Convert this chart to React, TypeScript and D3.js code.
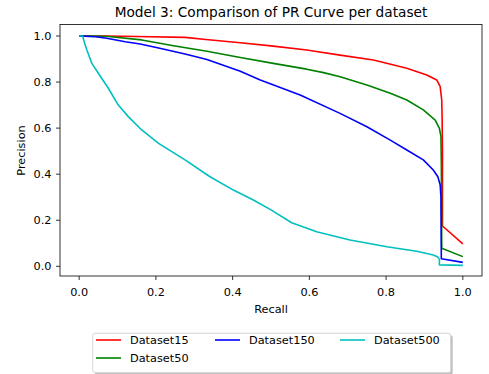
import React from "react";
import * as d3 from "d3";

const seriesNames = ["Dataset15", "Dataset50", "Dataset150", "Dataset500"];
const seriesColors = ["#ff0000", "#008000", "#0000ff", "#00bfbf"];

const recall15 = [0, 0.07, 0.15, 0.276, 0.33, 0.42, 0.5, 0.593, 0.68, 0.767, 0.854, 0.906, 0.932, 0.941, 0.945, 0.946, 0.947, 0.947, 1.0];
const precision15 = [1, 1, 0.998, 0.994, 0.985, 0.971, 0.957, 0.939, 0.917, 0.896, 0.86, 0.831, 0.809, 0.78, 0.722, 0.65, 0.5, 0.175, 0.097];

const recall50 = [0, 0.04, 0.076, 0.163, 0.246, 0.333, 0.42, 0.506, 0.593, 0.637, 0.68, 0.75, 0.811, 0.854, 0.897, 0.928, 0.939, 0.943, 0.944, 0.945, 1.0];
const precision50 = [1, 1, 0.998, 0.983, 0.958, 0.934, 0.907, 0.881, 0.856, 0.841, 0.823, 0.787, 0.751, 0.722, 0.679, 0.635, 0.599, 0.563, 0.45, 0.078, 0.042];

const recall150 = [0, 0.042, 0.072, 0.12, 0.159, 0.207, 0.276, 0.333, 0.42, 0.472, 0.576, 0.68, 0.75, 0.811, 0.854, 0.897, 0.923, 0.935, 0.941, 0.943, 0.944, 1.0];
const precision150 = [1, 0.997, 0.99, 0.975, 0.965, 0.948, 0.922, 0.898, 0.847, 0.809, 0.744, 0.664, 0.606, 0.548, 0.505, 0.462, 0.418, 0.389, 0.353, 0.3, 0.033, 0.017];

const recall500 = [0, 0.009, 0.014, 0.02, 0.033, 0.05, 0.076, 0.102, 0.128, 0.163, 0.207, 0.276, 0.34, 0.402, 0.454, 0.5, 0.554, 0.619, 0.706, 0.802, 0.88, 0.923, 0.935, 0.939, 0.939, 1.0];
const precision500 = [1, 1, 0.97, 0.939, 0.881, 0.838, 0.773, 0.7, 0.65, 0.592, 0.534, 0.462, 0.39, 0.331, 0.288, 0.245, 0.189, 0.15, 0.114, 0.085, 0.065, 0.049, 0.04, 0.03, 0.006, 0.004];

const xTicks = [0, 0.2, 0.4, 0.6, 0.8, 1.0];
const yTicks = [0, 0.2, 0.4, 0.6, 0.8, 1.0];

const recalls = [recall15, recall50, recall150, recall500];
const precisions = [precision15, precision50, precision150, precision500];

const FONT = "DejaVu Sans, sans-serif";

export default function App() {
  const W = 489, H = 374;
  const left = 60, right = 482, top = 24.5, bottom = 276;
  const x = d3.scaleLinear().domain([-0.05, 1.05]).range([left, right]);
  const y = d3.scaleLinear().domain([0, 1]).range([266.3, 36]);
  const line = d3.line<[number, number]>().x((d) => x(d[0])).y((d) => y(d[1]));
  const fs = 11.3;

  const legendItems = [
    { i: 0, lx: 96, ty: 344 },
    { i: 1, lx: 96, ty: 362 },
    { i: 2, lx: 215, ty: 344 },
    { i: 3, lx: 340, ty: 344 },
  ];

  return (
    <svg width={W} height={H} style={{ position: "absolute", left: 0, top: 0, background: "#fff" }} fontFamily={FONT}>
      <rect x={0} y={0} width={W} height={H} fill="#fff" />
      <text x={271} y={17} textAnchor="middle" fontSize={13.7} fill="#000">
        Model 3: Comparison of PR Curve per dataset
      </text>
      <defs>
        <clipPath id="plotclip">
          <rect x={left} y={top} width={right - left} height={bottom - top} />
        </clipPath>
      </defs>
      <g clipPath="url(#plotclip)">
        {recalls.map((r, i) => (
          <path
            key={i}
            d={line(r.map((v, k) => [v, precisions[i][k]] as [number, number])) || ""}
            fill="none"
            stroke={seriesColors[i]}
            strokeWidth={1.6}
            strokeLinejoin="round"
          />
        ))}
      </g>
      <rect x={left} y={top} width={right - left} height={bottom - top} fill="none" stroke="#000" strokeWidth={0.8} />
      {xTicks.map((t) => (
        <g key={"x" + t}>
          <line x1={x(t)} x2={x(t)} y1={bottom} y2={bottom + 4} stroke="#000" strokeWidth={0.8} />
          <text x={x(t)} y={295.5} textAnchor="middle" fontSize={fs} fill="#000">
            {t.toFixed(1)}
          </text>
        </g>
      ))}
      {yTicks.map((t) => (
        <g key={"y" + t}>
          <line x1={left - 4} x2={left} y1={y(t)} y2={y(t)} stroke="#000" strokeWidth={0.8} />
          <text x={51.5} y={y(t) + 4} textAnchor="end" fontSize={fs} fill="#000">
            {t.toFixed(1)}
          </text>
        </g>
      ))}
      <text x={271} y={313} textAnchor="middle" fontSize={fs} fill="#000">
        Recall
      </text>
      <text transform={`translate(24.5,150.5) rotate(-90)`} textAnchor="middle" fontSize={fs} fill="#000">
        Precision
      </text>
      <rect x={94.7} y={335.3} width={358} height={39.4} rx={2.5} fill="#808080" opacity={0.5} />
      <rect x={92.7} y={333.3} width={358} height={39.4} rx={2.5} fill="#fff" stroke="#cccccc" strokeWidth={0.8} />
      {legendItems.map((it) => (
        <g key={it.i}>
          <line x1={it.lx} x2={it.lx + 25} y1={it.ty - 4} y2={it.ty - 4} stroke={seriesColors[it.i]} strokeWidth={1.6} />
          <text x={it.lx + 34} y={it.ty} fontSize={fs} fill="#000">
            {seriesNames[it.i]}
          </text>
        </g>
      ))}
    </svg>
  );
}
